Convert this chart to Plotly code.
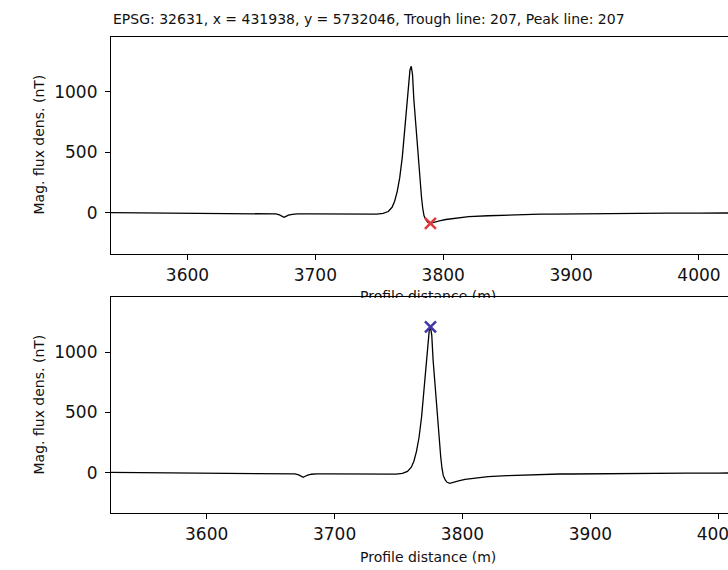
import plotly.graph_objects as go

# Magnetic profile across line 207 (distance along profile in m, flux density in nT)
distance_m = [3520, 3540, 3560, 3580, 3600, 3620, 3640, 3655, 3665, 3669, 3672, 3674,
              3675.5, 3677, 3679, 3682, 3686, 3695, 3710, 3725, 3740, 3748, 3753, 3757,
              3760, 3762, 3764, 3766, 3768, 3769.5, 3771, 3772.5, 3774, 3775, 3776, 3777,
              3778, 3779, 3780, 3781, 3782, 3783, 3784, 3785, 3786.5, 3788, 3790, 3793,
              3797, 3802, 3810, 3820, 3835, 3850, 3862, 3868, 3872, 3876, 3885, 3900,
              3925, 3950, 3975, 4000, 4030]
flux_nT = [3, 2, 1, 0, -1, -2, -4, -5, -7, -10, -18, -30,
           -38, -30, -20, -13, -10, -10, -11, -12, -14, -12, -6, 10,
           45, 95, 175, 290, 460, 640, 860, 1060, 1180, 1210, 1140, 940,
           800, 660, 510, 380, 250, 130, 35, -25, -60, -80, -88, -82,
           -68, -56, -44, -33, -25, -20, -16, -12, -8, -11, -11, -9,
           -7, -5, -4, -3, -2]

# Picked extrema
trough_distance = [3790]
trough_flux = [-88]
peak_distance = [3775]
peak_flux = [1210]

title_text = "EPSG: 32631, x = 431938, y = 5732046, Trough line: 207, Peak line: 207"
y_title = "Mag. flux dens. (nT)"
x_title = "Profile distance (m)"
x_ticks = [3600, 3700, 3800, 3900, 4000]
y_ticks = [0, 500, 1000]

W, H = 728, 570
ML, MR, MT, MB = 111, 0, 37, 57
PW, PH = W - ML - MR, H - MT - MB


def px(xp):
    return (xp - ML) / PW


def py(yp):
    return (H - MB - yp) / PH


FONT = "DejaVu Sans"
INK = "#111111"

fig = go.Figure()
fig.add_trace(go.Scatter(x=distance_m, y=flux_nT, mode="lines",
                         line=dict(color="black", width=1.3),
                         xaxis="x", yaxis="y", showlegend=False))
fig.add_trace(go.Scatter(x=trough_distance, y=trough_flux, mode="markers",
                         marker=dict(symbol="x-thin", size=11, color="#e0383a",
                                     line=dict(color="#e0383a", width=2.5)),
                         xaxis="x", yaxis="y", showlegend=False))
fig.add_trace(go.Scatter(x=distance_m, y=flux_nT, mode="lines",
                         line=dict(color="black", width=1.3),
                         xaxis="x2", yaxis="y2", showlegend=False))
fig.add_trace(go.Scatter(x=peak_distance, y=peak_flux, mode="markers",
                         marker=dict(symbol="x-thin", size=11, color="#4038a8",
                                     line=dict(color="#4038a8", width=2.5)),
                         xaxis="x2", yaxis="y2", showlegend=False))

axis_common = dict(showline=True, linecolor="black", linewidth=1.2,
                   ticks="outside", ticklen=5, tickwidth=1, tickcolor="black",
                   showgrid=False, zeroline=False, ticklabeloverflow="allow",
                   automargin=False,
                   tickfont=dict(family=FONT, size=17, color=INK))

fig.update_layout(
    width=W, height=H,
    margin=dict(l=ML, r=MR, t=MT, b=MB, pad=0, autoexpand=False),
    paper_bgcolor="white", plot_bgcolor="white",
    xaxis=dict(axis_common, anchor="y", domain=[0, 1], range=[3540.2, 4022.7],
               tickvals=x_ticks, mirror=True),
    yaxis=dict(axis_common, anchor="x", domain=[py(254), 1], range=[-341, 1452],
               tickvals=y_ticks, mirror=False, ticklabelstandoff=4),
    xaxis2=dict(axis_common, anchor="y2", domain=[0, 1], range=[3525.2, 4007.6],
                tickvals=x_ticks, mirror=True),
    yaxis2=dict(axis_common, anchor="x2", domain=[0, py(297)], range=[-335, 1459],
                tickvals=y_ticks, mirror=False, ticklabelstandoff=4),
)

ann = []
# Title above the upper panel
ann.append(dict(text=title_text, x=px(111), y=py(19), xref="paper", yref="paper",
                xanchor="left", yanchor="middle", showarrow=False,
                font=dict(family=FONT, size=14, color=INK)))
# Y axis titles
for yc in (145, 405):
    ann.append(dict(text=y_title, x=px(38.5), y=py(yc), xref="paper", yref="paper",
                    xanchor="center", yanchor="middle", textangle=-90, showarrow=False,
                    font=dict(family=FONT, size=14, color=INK)))
# X axis titles (the upper one is tucked under the lower panel)
for yc in (296, 557):
    ann.append(dict(text=x_title, x=px(428), y=py(yc), xref="paper", yref="paper",
                    xanchor="center", yanchor="middle", showarrow=False,
                    font=dict(family=FONT, size=14, color=INK)))
# Lower panel face covering the upper x title, with its top edge redrawn
ann.append(dict(text=" ", x=px(428), y=py(297.6), xref="paper", yref="paper",
                xanchor="center", yanchor="top", showarrow=False, width=180, height=14,
                bgcolor="white", borderpad=0, borderwidth=0, font=dict(size=1)))
ann.append(dict(text=" ", x=px(428), y=py(296.4), xref="paper", yref="paper",
                xanchor="center", yanchor="top", showarrow=False, width=180, height=1.2,
                bgcolor="black", borderpad=0, borderwidth=0, font=dict(size=1)))
fig.update_layout(annotations=ann)

fig.write_html("out.html")
